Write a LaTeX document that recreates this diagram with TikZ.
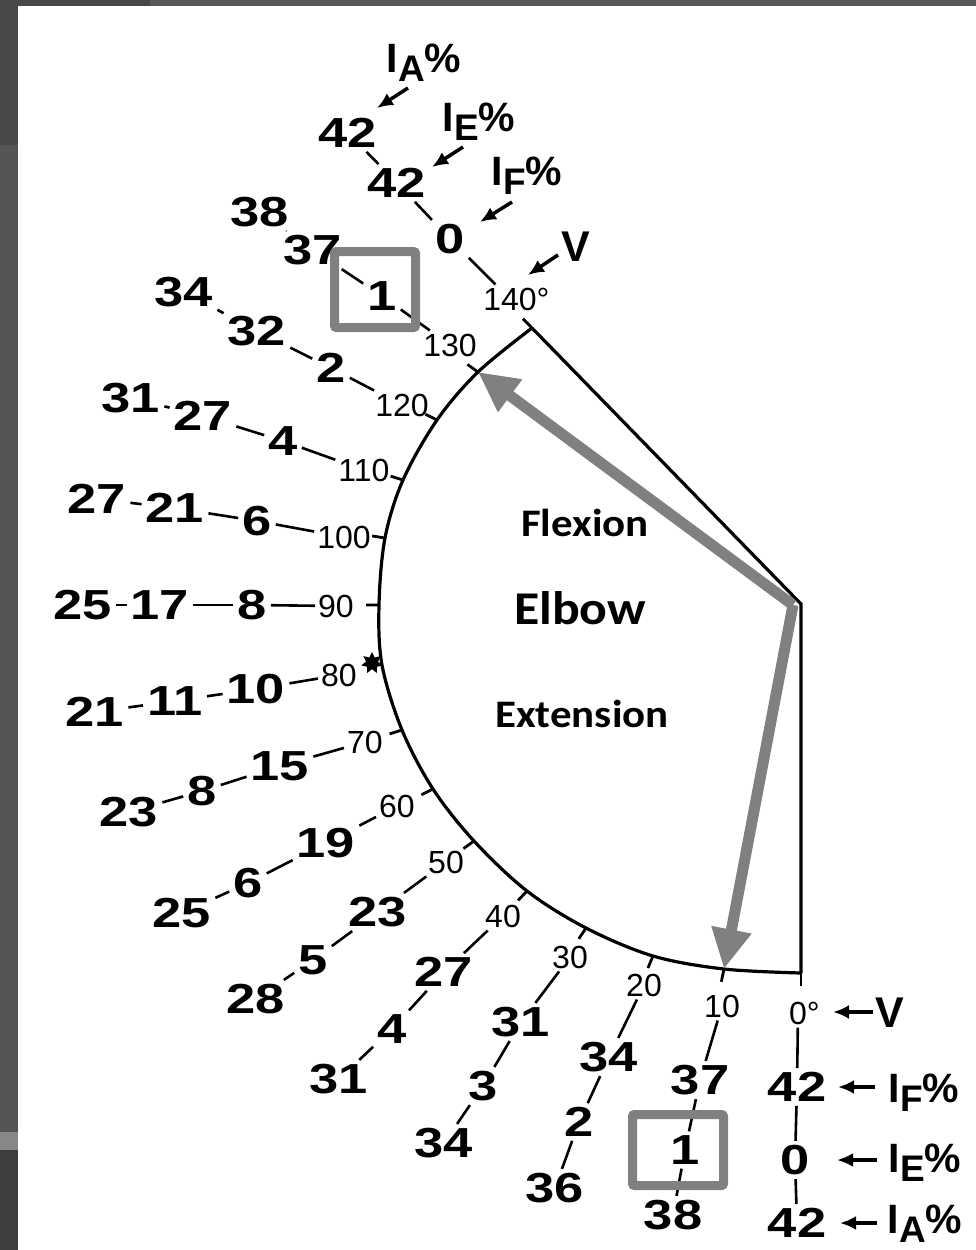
\documentclass[tikz,border=0pt]{standalone}
\usepackage{fontspec}
\setmainfont{Liberation Sans}
\newfontfamily\numfont[FakeStretch=1.25]{Liberation Sans}
\newfontfamily\lblfont{Liberation Sans}
\newfontfamily\calfont[FakeStretch=1.1]{Carlito}
\usetikzlibrary{arrows.meta,calc,shapes.geometric}
\definecolor{hlgray}{RGB}{128,128,128}
\definecolor{stripA}{RGB}{72,72,72}
\definecolor{stripB}{RGB}{85,85,85}
\definecolor{stripC}{RGB}{135,135,135}
\definecolor{stripD}{RGB}{62,62,62}
\definecolor{topbar}{RGB}{88,88,88}
\newcommand{\isub}[1]{I\raisebox{-9pt}{\fontsize{37}{37}\selectfont #1}\%}
\begin{document}
\begin{tikzpicture}[x=1pt,y=-1pt,
  nbig/.style={font=\numfont\bfseries\fontsize{42}{42}\selectfont,inner sep=4pt},
  nsmall/.style={font=\lblfont\fontsize{32}{32}\selectfont,inner sep=3pt},
  ilbl/.style={font=\lblfont\bfseries\fontsize{41}{41}\selectfont,inner sep=0pt},
  vlbl/.style={font=\lblfont\bfseries\fontsize{43}{43}\selectfont,inner sep=0pt},
  intext/.style={font=\calfont\bfseries\fontsize{39}{39}\selectfont,inner sep=0pt},
  conn/.style={line width=2.6pt},
  tickline/.style={line width=2.8pt},
  sector/.style={line width=3.2pt,line join=miter},
  iarrow/.style={line width=3.5pt,-{Latex[length=16pt,width=14pt]}},
  garrow/.style={draw=hlgray,line width=11pt,-{Triangle[length=40pt,width=38pt]}},
  hlbox/.style={draw=hlgray,line width=9pt,rounded corners=2pt}
]
% background and scan frame
\useasboundingbox (0,0) rectangle (976,1250);
\fill[white] (0,0) rectangle (976,1250);
\fill[topbar] (0,0) rectangle (976,6);
\fill[stripA] (0,0) rectangle (150,6);
\fill[stripA] (0,0) rectangle (18,145);
\fill[stripB] (0,145) rectangle (18,1132);
\fill[stripC] (0,1132) rectangle (18,1150);
\fill[stripD] (0,1150) rectangle (18,1250);

% sector geometry
\coordinate (c) at (801,604);
\coordinate (a0) at (801,973);
\coordinate (a10) at (724,969);
\coordinate (a20) at (653,956);
\coordinate (a30) at (586,928);
\coordinate (a40) at (527,891);
\coordinate (a50) at (474,841);
\coordinate (a60) at (433,789);
\coordinate (a70) at (402,730);
\coordinate (a80) at (382,665);
\coordinate (a90) at (379,605);
\coordinate (a100) at (385,538);
\coordinate (a110) at (403,480);
\coordinate (a120) at (437,420);
\coordinate (a130) at (478,372);
\coordinate (a140) at (532,328);

\draw[sector] plot[smooth,tension=0.55] coordinates {(a0) (a10) (a20) (a30) (a40) (a50) (a60) (a70) (a80) (a90) (a100) (a110) (a120) (a130) (a140)};
\draw[sector] (a140) -- (c) -- (a0);
\foreach \k in {0,10,20,30,40,50,60,70,90,100,110,120,130,140}
  \draw[tickline] (a\k) -- ($(a\k)!-13pt!(c)$);
\node[star,star points=7,star point ratio=1.8,fill=black,minimum size=22pt,inner sep=0pt] (ast) at (372,663) {};

% inner labels
\node[intext] (flex) at (585,523) {Flexion};
\node[intext,font=\calfont\bfseries\fontsize{47}{47}\selectfont] (elbow) at (580,608) {Elbow};
\node[intext] (ext) at (582,714) {Extension};

% angle labels
\node[nsmall] (l140) at (510,299) {140\rlap{°}};
\node[nsmall] (l130) at (450,345) {130};
\node[nsmall] (l120) at (402,405) {120};
\node[nsmall] (l110) at (364,470) {110};
\node[nsmall] (l100) at (344,537) {100};
\node[nsmall] (l90) at (336,606) {90};
\node[nsmall] (l80) at (339,675) {80};
\node[nsmall] (l70) at (365,742) {70};
\node[nsmall] (l60) at (397,806) {60};
\node[nsmall] (l50) at (446,862) {50};
\node[nsmall] (l40) at (503,916) {40};
\node[nsmall] (l30) at (570,957) {30};
\node[nsmall] (l20) at (644,985) {20};
\node[nsmall] (l10) at (722,1006) {10};
\node[nsmall] (l0) at (798,1013) {0\rlap{°}};

% value chains
\node[nbig] (n140a) at (450,239) {0};
\node[nbig] (n140b) at (397,183) {42};
\node[nbig] (n140c) at (348,133) {42};
\node[nbig] (n130a) at (382,296) {1};
\node[nbig] (n130b) at (313,250) {37};
\node[nbig] (n130c) at (260,212) {38};
\node[nbig] (n120a) at (331,368) {2};
\node[nbig] (n120b) at (257,331) {32};
\node[nbig] (n120c) at (184,292) {34};
\node[nbig] (n110a) at (283,441) {4};
\node[nbig] (n110b) at (203,416) {27};
\node[nbig] (n110c) at (131,398) {31};
\node[nbig] (n100a) at (257,521) {6};
\node[nbig] (n100b) at (175,508) {21};
\node[nbig] (n100c) at (97,499) {27};
\node[nbig] (n90a) at (252,605) {8};
\node[nbig] (n90b) at (160,605) {17};
\node[nbig] (n90c) at (83,605) {25};
\node[nbig] (n80a) at (256,689) {10};
\node[nbig] (n80b) at (175,701) {11};
\node[nbig] (n80c) at (95,712) {21};
\node[nbig] (n70a) at (280,766) {15};
\node[nbig] (n70b) at (202,791) {8};
\node[nbig] (n70c) at (129,812) {23};
\node[nbig] (n60a) at (326,843) {19};
\node[nbig] (n60b) at (248,883) {6};
\node[nbig] (n60c) at (182,913) {25};
\node[nbig] (n50a) at (378,912) {23};
\node[nbig] (n50b) at (313,960) {5};
\node[nbig] (n50c) at (256,999) {28};
\node[nbig] (n40a) at (444,972) {27};
\node[nbig] (n40b) at (392,1029) {4};
\node[nbig] (n40c) at (339,1079) {31};
\node[nbig] (n30a) at (521,1022) {31};
\node[nbig] (n30b) at (483,1086) {3};
\node[nbig] (n30c) at (444,1143) {34};
\node[nbig] (n20a) at (609,1057) {34};
\node[nbig] (n20b) at (579,1122) {2};
\node[nbig] (n20c) at (555,1188) {36};
\node[nbig] (n10a) at (700,1080) {37};
\node[nbig] (n10b) at (685,1150) {1};
\node[nbig] (n10c) at (673,1215) {38};
\node[nbig] (n0a) at (797,1087) {42};
\node[nbig] (n0b) at (795,1160) {0};
\node[nbig] (n0c) at (797,1223) {42};

\foreach \k in {0,10,20,30,40,50,60,70,80,90,100,110,120,130,140}{
  \draw[conn] (l\k) -- (n\k a);
  \draw[conn] (n\k a) -- (n\k b);
  \draw[conn] (n\k b) -- (n\k c);
}

% index labels
\node[ilbl] (IA) at (424,63) {\isub{A}};
\node[ilbl] (IE) at (479,122) {\isub{E}};
\node[ilbl] (IF) at (527,176) {\isub{F}};
\node[vlbl] (V) at (576,247) {V};
\node[vlbl] (V2) at (890,1013) {V};
\node[ilbl] (IF2) at (924,1093) {\isub{F}};
\node[ilbl] (IE2) at (925,1163) {\isub{E}};
\node[ilbl] (IA2) at (925,1224) {\isub{A}};

\draw[iarrow] ($(IA)+(-16,25)$) -- ($(n140c)+(29,-25)$);
\draw[iarrow] ($(IE)+(-16,25)$) -- ($(n140b)+(35,-16)$);
\draw[iarrow] ($(IF)+(-15,26)$) -- ($(n140a)+(30,-17)$);
\draw[iarrow] ($(V)+(-18,8)$) -- ($(l140)+(18,-24)$);
\draw[iarrow] ($(V2)+(-17,-1)$) -- ($(l0)+(35,-1)$);
\draw[iarrow] ($(IF2)+(-49,-6)$) -- ($(n0a)+(41,0)$);
\draw[iarrow] ($(IE2)+(-48,-3)$) -- ($(n0b)+(42,0)$);
\draw[iarrow] ($(IA2)+(-48,-1)$) -- ($(n0c)+(43,0)$);

% grey annotations
\coordinate (g) at (793,605);
\draw[garrow] (g) -- (a130);
\draw[garrow] (g) -- (a10);
\draw[hlbox] (334.5,251.5) rectangle (415.5,327.5);
\draw[hlbox] (632.5,1114.5) rectangle (723.5,1185.5);
\end{tikzpicture}
\end{document}
